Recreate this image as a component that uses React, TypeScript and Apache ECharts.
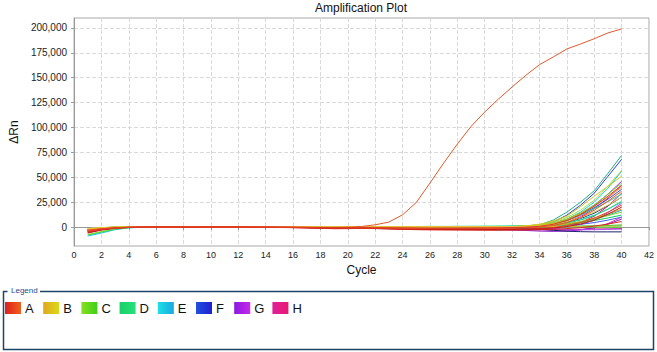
import { useEffect, useRef } from "react";
import * as echarts from "echarts";

const cycles = [1, 2, 3, 4, 5, 6, 7, 8, 9, 10, 11, 12, 13, 14, 15, 16, 17, 18, 19, 20, 21, 22, 23, 24, 25, 26, 27, 28, 29, 30, 31, 32, 33, 34, 35, 36, 37, 38, 39, 40];
const yTickValues = [0, 25000, 50000, 75000, 100000, 125000, 150000, 175000, 200000];
const legendLabels = ["A", "B", "C", "D", "E", "F", "G", "H"];

// ΔRn per cycle, in thousands
const rowA = [
  [-3, -1.6, -0.6, -0.2, 0, 0, 0, 0, 0, 0, 0, 0, -0.1, -0.2, -0.2, -0.2, -0.3, -0.4, -0.4, -0.2, 0.6, 2.3, 5, 12.3, 24.7, 44.2, 64.3, 83.4, 101.1, 115.6, 128.6, 140.7, 152.4, 163.1, 170.8, 178.9, 183.9, 189.2, 195, 199],
  [-5, -2.4, -1, -0.3, 0, 0.1, 0.1, 0.1, 0, 0, 0, 0, -0.2, -0.3, -0.4, -0.6, -0.9, -1.3, -1.6, -1.5, -1.3, -1.4, -1.8, -2.3, -2.6, -2.8, -2.9, -3, -3, -3.1, -3.2, -3, -2.9, -2.6, -2.2, -1.5, -0.5, 1, 3, 5.6],
  [-4, -2, -0.8, -0.2, 0, 0, 0, 0, 0, 0.1, 0, 0, -0.1, -0.2, -0.3, -0.4, -0.6, -0.8, -1, -1.1, -1.1, -1.2, -1.5, -1.9, -2.2, -2.4, -2.5, -2.5, -2.6, -2.6, -2.5, -2.3, -2, -1.4, -0.4, 1.5, 4.5, 9, 15, 22],
  [-6, -3, -1.2, -0.4, -0.1, 0, 0, 0, 0, 0, 0, 0, 0, -0.1, -0.2, -0.3, -0.5, -0.8, -1.1, -1.2, -1.2, -1.4, -1.6, -1.9, -2.1, -2.3, -2.4, -2.4, -2.5, -2.5, -2.4, -2.3, -2.1, -1.8, -1, 0.5, 3, 7, 13, 20],
  [-3.5, -1.8, -0.7, -0.2, 0, 0, 0, 0.1, 0.1, 0, 0, 0, 0, 0, -0.1, -0.2, -0.3, -0.5, -0.7, -0.8, -0.8, -0.9, -1, -1.2, -1.4, -1.5, -1.6, -1.6, -1.6, -1.5, -1.4, -1.2, -0.8, 0, 1.5, 4.5, 9.5, 17, 26, 36],
  [-4.5, -2.2, -0.9, -0.3, 0, 0, 0, 0, 0, 0, 0, 0, 0, -0.1, -0.1, -0.2, -0.3, -0.4, -0.5, -0.5, -0.5, -0.6, -0.7, -0.8, -0.9, -1, -1, -1, -0.9, -0.8, -0.7, -0.5, -0.1, 0.8, 2.8, 6.5, 12.5, 21, 31, 42],
];
const rowB = [
  [-2, -0.8, -0.2, 0.1, 0.2, 0.2, 0.1, 0.1, 0.1, 0.1, 0.1, 0.2, 0.2, 0.1, 0.1, 0.1, 0.1, 0, 0, 0, 0, 0, 0, 0, 0, 0, 0, 0, 0, 0.1, 0.2, 0.5, 1.2, 2.8, 6, 11, 20.5, 31, 41, 51],
  [-3, -1.3, -0.4, 0, 0.1, 0.1, 0.1, 0.1, 0, 0, 0, 0.1, 0.1, 0, 0, 0, 0, -0.1, -0.1, -0.1, -0.1, -0.1, -0.2, -0.2, -0.3, -0.3, -0.3, -0.3, -0.2, -0.2, -0.1, 0, 0.5, 1.5, 3.5, 7.5, 13.5, 21, 30, 40],
  [-1.5, -0.5, 0, 0.2, 0.3, 0.3, 0.2, 0.2, 0.2, 0.2, 0.3, 0.3, 0.2, 0.2, 0.2, 0.1, 0.1, 0.1, 0.1, 0.1, 0.1, 0.1, 0.1, 0.1, 0.1, 0.1, 0.1, 0.2, 0.2, 0.2, 0.3, 0.4, 0.8, 1.5, 3, 5.5, 9.5, 15, 22, 30],
  [-2.5, -1, -0.3, 0, 0.1, 0.1, 0, 0, 0, 0, 0, 0, 0, 0, 0, 0, 0, 0, -0.1, -0.1, -0.1, -0.1, -0.1, -0.1, -0.1, -0.1, -0.1, -0.1, 0, 0, 0, 0.1, 0.3, 0.7, 1.5, 3, 5.5, 9, 13, 18],
  [-1.8, -0.6, 0, 0.3, 0.4, 0.4, 0.3, 0.3, 0.3, 0.3, 0.4, 0.4, 0.3, 0.3, 0.3, 0.3, 0.2, 0.2, 0.2, 0.2, 0.2, 0.2, 0.3, 0.3, 0.3, 0.4, 0.4, 0.4, 0.5, 0.5, 0.5, 0.6, 0.6, 0.7, 0.7, 0.8, 0.8, 0.9, 0.9, 1],
];
const rowC = [
  [-2.5, -1, -0.3, 0, 0.1, 0.1, 0.1, 0, 0, 0, 0, 0, 0, 0, 0, 0, 0, 0, 0, 0, 0.1, 0.1, 0.1, 0.1, 0.1, 0.2, 0.2, 0.2, 0.3, 0.3, 0.3, 0.4, 0.8, 1.8, 4, 8, 14, 22, 33, 44],
  [-2, -0.7, -0.1, 0.2, 0.2, 0.2, 0.1, 0.1, 0.1, 0.1, 0.1, 0.1, 0.1, 0.1, 0, 0, 0, 0, 0, 0, 0, 0, 0, 0, 0.1, 0.1, 0.1, 0.2, 0.2, 0.3, 0.4, 0.6, 1.1, 2.3, 5, 9.5, 17, 27, 41, 57],
  [-3.5, -1.6, -0.5, 0, 0.1, 0.1, 0.1, 0, 0, 0, 0, 0, 0, 0, 0, 0, 0, 0, 0, 0, 0, 0, 0, 0, 0, 0, 0, 0, 0, 0, 0, 0, 0, 0.1, 0.2, 0.4, 0.7, 1.1, 1.6, 2.2],
  [-2.2, -0.9, -0.2, 0.1, 0.1, 0.1, 0.1, 0.1, 0.1, 0.1, 0.1, 0.1, 0.1, 0.1, 0.1, 0.1, 0.1, 0.1, 0.1, 0.2, 0.2, 0.2, 0.2, 0.3, 0.3, 0.3, 0.3, 0.3, 0.3, 0.3, 0.4, 0.3, 0.3, 0.3, 0.2, 0.1, 0, -0.1, -0.2, -0.3],
  [-7.5, -4.5, -1.8, -0.5, 0, 0.1, 0.1, 0.1, 0.1, 0.1, 0.1, 0.1, 0.1, 0.1, 0.1, 0.1, 0.1, 0.1, 0.1, 0.1, 0.1, 0.1, 0.1, 0.2, 0.2, 0.2, 0.2, 0.3, 0.3, 0.3, 0.4, 0.5, 0.7, 1.1, 1.9, 3.2, 5.2, 8, 11.5, 15],
];
const rowD = [
  [-3, -1.3, -0.4, 0, 0.1, 0.1, 0.1, 0.1, 0.1, 0.1, 0, 0, 0, 0, 0, 0, 0, 0, 0, 0, 0, 0, 0, 0.1, 0.1, 0.1, 0.2, 0.2, 0.3, 0.4, 0.5, 0.7, 1.2, 2.3, 7, 15, 25, 36.5, 54, 72],
  [-2, -0.7, -0.1, 0.2, 0.2, 0.2, 0.2, 0.2, 0.2, 0.2, 0.3, 0.3, 0.3, 0.3, 0.2, 0.2, 0.2, 0.2, 0.2, 0.2, 0.3, 0.3, 0.3, 0.4, 0.4, 0.5, 0.5, 0.6, 0.7, 0.7, 0.8, 0.8, 1, 1.4, 2.3, 4, 7, 11.5, 18, 26],
  [-2.8, -1.1, -0.3, 0.1, 0.2, 0.2, 0.2, 0.2, 0.2, 0.2, 0.2, 0.2, 0.2, 0.2, 0.3, 0.3, 0.3, 0.3, 0.3, 0.4, 0.4, 0.5, 0.5, 0.6, 0.6, 0.7, 0.7, 0.8, 0.8, 0.9, 1, 1, 1, 1, 1, 1, 1.1, 1.2, 1.3, 1.5],
  [-8, -5, -2, -0.6, -0.1, 0, 0, 0.1, 0.1, 0.1, 0.1, 0.1, 0.1, 0.1, 0.1, 0.1, 0.1, 0.1, 0.2, 0.2, 0.2, 0.2, 0.2, 0.2, 0.3, 0.3, 0.3, 0.3, 0.4, 0.4, 0.4, 0.5, 0.6, 0.9, 1.5, 2.6, 4.3, 6.6, 9.2, 12],
  [-2.4, -1, -0.3, 0, 0.1, 0.1, 0.1, 0.1, 0.1, 0.1, 0.1, 0.1, 0.1, 0.1, 0.1, 0.1, 0.1, 0.1, 0.1, 0.1, 0.1, 0.1, 0.2, 0.2, 0.2, 0.3, 0.3, 0.3, 0.4, 0.5, 0.6, 0.8, 1.2, 2, 3.8, 7, 12, 18.5, 25.5, 33],
];
const rowE = [
  [-9, -6, -2.6, -0.8, -0.2, 0, 0.1, 0.1, 0.1, -0.3, -0.4, -0.2, 0, 0, 0, 0, 0, 0, 0, 0, 0, 0, 0, 0, 0, 0, 0, 0.1, 0.1, 0.2, 0.3, 0.4, 0.7, 1.5, 3.5, 8, 15, 25, 39, 56],
  [-2.6, -1.1, -0.3, 0, 0.1, 0.1, 0.1, 0.1, 0.1, 0.1, 0.1, 0.1, 0.1, 0.1, 0.1, 0.1, 0.1, 0.1, 0.1, 0.1, 0.1, 0.1, 0.2, 0.2, 0.2, 0.2, 0.3, 0.3, 0.4, 0.4, 0.5, 0.6, 0.9, 1.5, 2.6, 4.5, 7.5, 12, 18, 25],
  [-3.2, -1.4, -0.4, 0, 0.1, 0.1, 0.1, 0, 0, 0, 0, 0, 0, 0, 0, 0, 0, 0, 0, 0, 0, 0, 0, 0, 0, 0, 0, 0.1, 0.1, 0.1, 0.2, 0.3, 0.5, 0.9, 1.7, 3, 5, 8, 12, 17],
  [-1.6, -0.5, 0, 0.2, 0.3, 0.3, 0.3, 0.3, 0.3, 0.3, 0.3, 0.3, 0.3, 0.3, 0.3, 0.3, 0.3, 0.3, 0.4, 0.4, 0.4, 0.4, 0.4, 0.4, 0.5, 0.5, 0.5, 0.5, 0.5, 0.5, 0.6, 0.8, 0.6, 0.5, 0.5, 0.5, 0.5, 0.5, 0.5, 0.5],
];
const rowF = [
  [-2.5, -1, -0.3, 0, 0.1, 0.1, 0, 0, 0, 0, 0, 0, 0, 0, 0, 0, 0, 0, 0, 0, 0, 0, 0, 0, 0, 0, 0.1, 0.1, 0.1, 0.2, 0.3, 0.4, 0.8, 1.8, 5, 12, 22, 34, 51, 68],
  [-3.4, -1.5, -0.5, -0.1, 0, 0, 0, 0, 0, 0, 0, 0, 0, 0, 0, 0, 0, 0, 0, 0, 0, 0, 0, 0, 0, 0, 0, 0, 0.1, 0.1, 0.2, 0.3, 0.6, 1.3, 3, 6.5, 12, 19.5, 28, 38],
  [-2.8, -1.2, -0.4, 0, 0, 0, 0, 0, 0, 0, 0, 0, 0, 0, 0, 0, 0, 0, 0, 0, 0, 0, 0, 0, 0, 0, 0, 0, 0, 0.1, 0.1, 0.2, 0.4, 0.9, 2, 4.5, 8.5, 14, 21.5, 30],
  [-3, -1.3, -0.4, 0, 0, 0, 0, 0, 0, 0, 0, 0, 0, 0, 0, 0, -0.1, -0.1, -0.2, -0.2, -0.2, -0.3, -0.3, -0.4, -0.4, -0.5, -0.5, -0.6, -0.7, -0.8, -0.9, -1.1, -1.5, -2.2, -3.2, -4.2, -4.6, -4.8, -4.8, -4.8],
  [-2, -0.8, -0.2, 0.1, 0.1, 0.1, 0.1, 0.1, 0.1, 0.1, 0.1, 0.1, 0.1, 0.1, 0.1, 0.1, 0.1, 0.1, 0.1, 0.1, 0.1, 0.1, 0.1, 0.1, 0.1, 0.1, 0.1, 0.1, 0.1, 0.1, 0.1, 0.2, 0.3, 0.5, 0.9, 1.6, 2.8, 4.5, 7, 10],
];
const rowG = [
  [-3, -1.3, -0.4, 0, 0.1, 0.1, 0.1, 0, 0, 0, 0, 0, 0, 0, 0, 0, 0, 0, 0, 0, 0, 0, 0, 0, 0, 0, 0, 0, 0, 0, 0, 0, 0.2, 0.8, 2.6, 6.5, 13, 22, 33, 46],
  [-4, -1.9, -0.7, -0.2, 0, 0, 0, 0, 0, 0, 0, 0, 0, 0, 0, 0, 0, -0.1, -0.1, -0.1, -0.1, -0.2, -0.2, -0.3, -0.3, -0.4, -0.5, -0.6, -0.7, -0.8, -1, -1.3, -1.7, -2, -1.6, -0.2, 2.5, 7, 14.5, 24],
  [-3.6, -1.6, -0.5, -0.1, 0, 0, 0, 0, 0, 0, 0, 0, 0, 0, 0, -0.1, -0.1, -0.2, -0.2, -0.3, -0.3, -0.4, -0.5, -0.6, -0.7, -0.9, -1.1, -1.3, -1.6, -1.9, -2.3, -2.8, -3.4, -4, -4.3, -4, -2.8, -0.6, 3, 8],
  [-2.5, -1, -0.3, 0, 0, 0, 0, 0, 0, 0, 0, 0, 0, 0, 0, 0, 0, 0, -0.1, -0.1, -0.1, -0.2, -0.2, -0.3, -0.3, -0.4, -0.4, -0.5, -0.6, -0.7, -0.8, -1, -1.3, -1.8, -2.4, -2.8, -2.8, -2.6, -2.3, -2],
];
const rowH = [
  [-3.8, -1.8, -0.6, -0.1, 0, 0, 0, 0, 0, 0, 0, 0, 0, 0, 0, 0, -0.1, -0.2, -0.3, -0.3, -0.3, -0.4, -0.5, -0.6, -0.7, -0.8, -0.9, -1, -1.1, -1.2, -1.3, -1.4, -1.3, -0.6, 1.2, 4.8, 10.5, 18.5, 29, 42],
  [-5.5, -2.8, -1.1, -0.3, 0, 0, 0, 0, 0, 0, 0, 0, -0.1, -0.2, -0.3, -0.5, -0.8, -1.2, -1.5, -1.5, -1.4, -1.5, -1.7, -1.9, -2.1, -2.3, -2.4, -2.5, -2.6, -2.7, -2.8, -2.9, -2.9, -2.6, -1.7, 0.5, 4.5, 11, 21, 34],
  [-3, -1.3, -0.4, 0, 0, 0, 0, 0, 0, 0, 0, 0, 0, 0, 0, 0, 0, -0.1, -0.1, -0.2, -0.2, -0.3, -0.3, -0.4, -0.5, -0.6, -0.7, -0.8, -0.9, -1.1, -1.3, -1.6, -2, -2.6, -3.2, -3.4, -2.8, -0.9, 3.6, 10],
  [-4.2, -2, -0.7, -0.2, 0, 0, 0, 0, 0, 0, 0, 0, 0, 0, 0, -0.1, -0.3, -0.6, -0.9, -1, -0.9, -1, -1.1, -1.3, -1.5, -1.7, -1.8, -1.9, -2, -2.1, -2.2, -2.3, -2.4, -2.5, -2.5, -2.4, -2.2, -2, -1.8, -1.5],
];

const rowAColors = ["#e05a2c", "#d42a1c", "#e8401e", "#c41a1a", "#f05220", "#dc3a28"];
const rowBColors = ["#d6c41e", "#e6a21c", "#e0d030", "#c8aa22", "#eec040"];
const rowCColors = ["#6ad620", "#a0e040", "#3cc81e", "#58d038", "#80d828"];
const rowDColors = ["#20b088", "#24d874", "#2ae0a8", "#18c860", "#30d090"];
const rowEColors = ["#1ac4e6", "#30d4e0", "#14a4dc", "#48dcec"];
const rowFColors = ["#2a40d4", "#3050e8", "#1c34c0", "#1a2470", "#4060f0"];
const rowGColors = ["#9a2ae0", "#b040ec", "#8a1ad0", "#c050f0"];
const rowHColors = ["#e01c8a", "#d01470", "#f03aa0", "#c0107c"];
const legendGradients = [
  ["#dc1f1f", "#f2601e"],
  ["#e0a81e", "#dcd81a"],
  ["#86e01a", "#3ecf1e"],
  ["#18d068", "#28e07c"],
  ["#1ee0e8", "#18a8e0"],
  ["#2050e0", "#2020d0"],
  ["#8a1ae0", "#c828ec"],
  ["#e0209a", "#e81870"],
];

const FONT = "Liberation Sans, Arial, sans-serif";

export default function App() {
  const ref = useRef<HTMLDivElement>(null);
  useEffect(() => {
    document.body.style.margin = "0";
    const chart = echarts.init(ref.current!, null, { renderer: "svg" });
    const rows = [
      { label: "H", data: rowH, colors: rowHColors },
      { label: "G", data: rowG, colors: rowGColors },
      { label: "F", data: rowF, colors: rowFColors },
      { label: "E", data: rowE, colors: rowEColors },
      { label: "D", data: rowD, colors: rowDColors },
      { label: "C", data: rowC, colors: rowCColors },
      { label: "B", data: rowB, colors: rowBColors },
      { label: "A", data: rowA, colors: rowAColors },
    ];
    const series: any[] = [];
    rows.forEach((row) => {
      row.data.forEach((vals, j) => {
        series.push({
          type: "line",
          name: row.label + (j + 1),
          showSymbol: false,
          symbol: "none",
          silent: true,
          lineStyle: { width: 1, color: row.colors[j] },
          data: cycles.map((c, k) => [c, vals[k] * 1000]),
        });
      });
    });

    const legendGraphics: any[] = [];
    legendGraphics.push({
      type: "polyline",
      shape: { points: [[7.5, 291.5], [3.5, 291.5], [3.5, 349.5], [653.5, 349.5], [653.5, 291.5], [40, 291.5]] },
      style: { stroke: "#1d4466", lineWidth: 1.5, fill: null },
    });
    legendGraphics.push({
      type: "text",
      x: 11,
      y: 290.5,
      style: { text: "Legend", font: `8px ${FONT}`, fill: "#1f4a8a", verticalAlign: "middle", align: "left" },
    });
    legendLabels.forEach((lab, i) => {
      const x = 5 + i * 38.2;
      legendGraphics.push({
        type: "rect",
        shape: { x, y: 302, width: 16, height: 12 },
        style: {
          fill: new echarts.graphic.LinearGradient(0, 0, 1, 0, [
            { offset: 0, color: legendGradients[i][0] },
            { offset: 1, color: legendGradients[i][1] },
          ]),
        },
      });
      legendGraphics.push({
        type: "text",
        x: x + 20,
        y: 308.5,
        style: { text: lab, font: `13px ${FONT}`, fill: "#111", verticalAlign: "middle", align: "left" },
      });
    });
    legendGraphics.push({
      type: "text",
      x: 361,
      y: 8,
      style: { text: "Amplification Plot", font: `12px ${FONT}`, fill: "#111", verticalAlign: "middle", align: "center" },
    });

    chart.setOption({
      animation: false,
      backgroundColor: "#ffffff",
      grid: { left: 73, right: 8, top: 18, bottom: 106, show: true, borderColor: "#a8a8a8", borderWidth: 1, backgroundColor: "transparent" },
      xAxis: {
        type: "value",
        min: 0,
        max: 42,
        interval: 2,
        name: "Cycle",
        nameLocation: "middle",
        nameGap: 18,
        nameTextStyle: { fontSize: 12, color: "#111", fontFamily: FONT },
        axisLine: { lineStyle: { color: "#9a9a9a" } },
        axisTick: { show: true, length: 3, lineStyle: { color: "#9a9a9a" } },
        axisLabel: { fontSize: 9, color: "#222", margin: 4, fontFamily: FONT },
        splitLine: { show: true, lineStyle: { type: "dashed", color: "#dadada", width: 1 } },
      },
      yAxis: {
        type: "value",
        min: -19000,
        max: 210000,
        name: "ΔRn",
        nameLocation: "middle",
        nameGap: 50,
        nameTextStyle: { fontSize: 12, color: "#111", fontFamily: FONT },
        axisLine: { show: true, lineStyle: { color: "#9a9a9a" } },
        axisTick: { show: true, length: 3, customValues: yTickValues, lineStyle: { color: "#9a9a9a" } },
        axisLabel: {
          customValues: yTickValues,
          fontSize: 10,
          color: "#222",
          margin: 7,
          fontFamily: FONT,
          formatter: (v: number) => v.toLocaleString("en-US"),
        },
        splitLine: { show: true, lineStyle: { type: "dashed", color: "#dadada", width: 1 } },
      },
      graphic: legendGraphics,
      series,
    });
    return () => chart.dispose();
  }, []);
  return <div ref={ref} style={{ width: 657, height: 352 }} />;
}
